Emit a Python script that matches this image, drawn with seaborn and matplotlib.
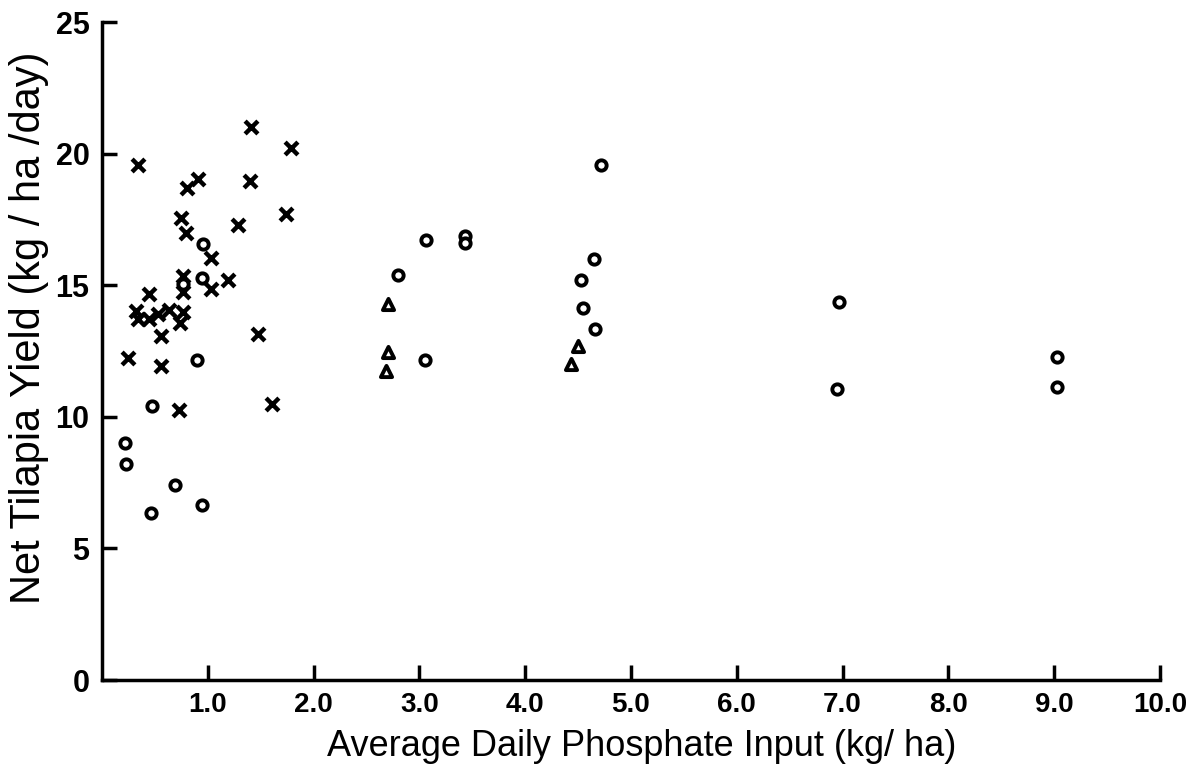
import matplotlib
matplotlib.use("Agg")
import matplotlib.pyplot as plt
import seaborn as sns
import pandas as pd

# Crosses (x)
x_cross = [1.41, 1.79, 0.34, 0.91, 0.80, 1.40, 0.75, 1.74, 1.29, 0.79,
           1.03, 0.77, 1.19, 1.03, 0.77, 0.44, 0.32, 0.34, 0.44, 0.53,
           0.63, 0.77, 0.74, 0.56, 1.47, 0.25, 0.56, 0.73, 1.61]
y_cross = [21.0, 20.2, 19.55, 19.04, 18.7, 18.94, 17.55, 17.7, 17.3, 17.0,
           16.03, 15.35, 15.18, 14.84, 14.75, 14.65, 14.02, 13.72, 13.72, 13.89,
           14.04, 14.0, 13.57, 13.07, 13.16, 12.22, 11.93, 10.25, 10.48]

# Circles (o)
x_circle = [0.95, 0.945, 0.77, 0.895, 0.47, 0.217, 0.224, 0.69, 0.948, 0.463,
            4.72, 3.06, 3.43, 3.43, 2.80, 3.05, 4.65, 4.53, 4.55, 4.66,
            6.97, 6.95, 9.03, 9.03]
y_circle = [16.58, 15.28, 15.05, 12.16, 10.42, 9.0, 8.2, 7.39, 6.65, 6.35,
            19.55, 16.72, 16.86, 16.6, 15.40, 12.16, 16.01, 15.21, 14.14, 13.32,
            14.36, 11.07, 12.27, 11.14]

# Triangles
x_tri = [2.70, 2.70, 2.68, 4.50, 4.43]
y_tri = [14.27, 12.46, 11.74, 12.69, 12.02]

x_ticks = [1, 2, 3, 4, 5, 6, 7, 8, 9, 10]
x_ticklabels = ["1.0", "2.0", "3.0", "4.0", "5.0", "6.0", "7.0", "8.0", "9.0", "10.0"]
y_ticks = [0, 5, 10, 15, 20, 25]
y_ticklabels = ["0", "5", "10", "15", "20", "25"]

sns.set_theme(style="white")
plt.rcParams['font.family'] = ['Liberation Sans', 'DejaVu Sans']

fig = plt.figure(figsize=(11.9, 7.74), dpi=100)
ax = fig.add_axes([102/1190, 94/774, (1160-102)/1190, (680-22)/774])

df_c = pd.DataFrame({"x": x_cross, "y": y_cross})
df_o = pd.DataFrame({"x": x_circle, "y": y_circle})
df_t = pd.DataFrame({"x": x_tri, "y": y_tri})

sns.scatterplot(data=df_c, x="x", y="y", ax=ax, marker="x", s=85,
                color="black", linewidth=3.2)
sns.scatterplot(data=df_o, x="x", y="y", ax=ax, marker="o", s=55,
                facecolor="white", edgecolor="black", linewidth=2.8)
sns.scatterplot(data=df_t, x="x", y="y", ax=ax, marker="^", s=65,
                facecolor="white", edgecolor="black", linewidth=2.8)

ax.set_xlim(0, 10)
ax.set_ylim(0, 25)
ax.set_xticks(x_ticks)
ax.set_xticklabels(x_ticklabels)
ax.set_yticks(y_ticks)
ax.set_yticklabels(y_ticklabels)

for side in ["top", "right"]:
    ax.spines[side].set_visible(False)
for side in ["left", "bottom"]:
    ax.spines[side].set_visible(True)
    ax.spines[side].set_linewidth(2.5)
    ax.spines[side].set_color("black")

ax.tick_params(axis="both", direction="in", length=11, width=2.5, colors="black")
ax.tick_params(axis="x", pad=9, labelsize=20)
ax.tick_params(axis="y", pad=9, labelsize=22)
ax.tick_params(left=True, bottom=True)
for lab in ax.get_xticklabels() + ax.get_yticklabels():
    lab.set_fontweight("bold")

ax.set_xlabel("Average Daily Phosphate Input (kg/ ha)", fontsize=26, color="black")
ax.set_ylabel("Net Tilapia Yield (kg / ha /day)", fontsize=30, color="black")
ax.xaxis.set_label_coords(0.51, -0.074)
ax.yaxis.set_label_coords(-0.05, 0.536)
ax.grid(False)

fig.savefig("out.png", dpi=100)
